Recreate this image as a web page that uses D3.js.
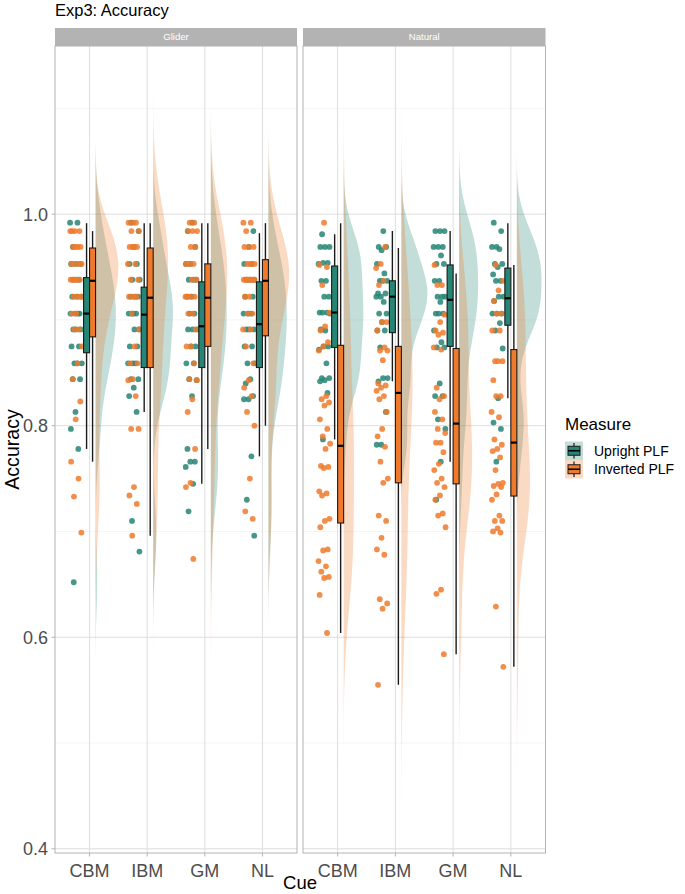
<!DOCTYPE html>
<html>
<head>
<meta charset="utf-8">
<script src="https://cdn.jsdelivr.net/npm/d3@7"></script>
<style>
  body { margin: 0; background: #fff; }
  svg { font-family: "Liberation Sans", Arial, sans-serif; }
</style>
</head>
<body>
<div id="chart"></div>
<script>
const panels = ["Glider", "Natural"];
const cues = ["CBM", "IBM", "GM", "NL"];
const measures = ["Upright PLF", "Inverted PLF"];
const yTicks = [0.4, 0.6, 0.8, 1.0];
const yMinor = [0.5, 0.7, 0.9, 1.1];

// participant accuracies, one list per cue (CBM, IBM, GM, NL)
const gliderUpright = [
  [0.992, 0.992, 0.969, 0.953, 0.953, 0.953, 0.938, 0.938, 0.922, 0.922, 0.922, 0.906, 0.906, 0.906, 0.906, 0.891, 0.891, 0.891, 0.875, 0.875, 0.859, 0.859, 0.859, 0.844, 0.844, 0.813, 0.797, 0.778, 0.652],
  [0.992, 0.984, 0.969, 0.953, 0.953, 0.938, 0.938, 0.922, 0.922, 0.922, 0.906, 0.906, 0.906, 0.906, 0.891, 0.891, 0.875, 0.875, 0.859, 0.859, 0.859, 0.844, 0.844, 0.836, 0.828, 0.813, 0.710, 0.681],
  [0.992, 0.984, 0.969, 0.953, 0.953, 0.938, 0.938, 0.938, 0.922, 0.922, 0.906, 0.906, 0.891, 0.891, 0.891, 0.875, 0.875, 0.859, 0.859, 0.844, 0.843, 0.828, 0.778, 0.766, 0.766, 0.761, 0.745, 0.719],
  [0.984, 0.969, 0.953, 0.953, 0.938, 0.938, 0.938, 0.922, 0.922, 0.906, 0.906, 0.906, 0.891, 0.891, 0.891, 0.875, 0.875, 0.859, 0.859, 0.844, 0.840, 0.828, 0.825, 0.825, 0.771, 0.730, 0.696]
];
const gliderInverted = [
  [0.984, 0.984, 0.984, 0.984, 0.969, 0.969, 0.969, 0.969, 0.953, 0.953, 0.953, 0.953, 0.938, 0.938, 0.938, 0.938, 0.938, 0.922, 0.922, 0.922, 0.906, 0.906, 0.891, 0.891, 0.875, 0.859, 0.844, 0.823, 0.806, 0.766, 0.750, 0.733, 0.699],
  [0.992, 0.992, 0.992, 0.984, 0.984, 0.969, 0.969, 0.969, 0.969, 0.953, 0.953, 0.938, 0.938, 0.922, 0.922, 0.922, 0.906, 0.891, 0.875, 0.859, 0.859, 0.844, 0.843, 0.828, 0.797, 0.797, 0.742, 0.734, 0.726, 0.696],
  [0.992, 0.992, 0.984, 0.984, 0.984, 0.969, 0.969, 0.953, 0.953, 0.953, 0.938, 0.938, 0.922, 0.922, 0.922, 0.922, 0.906, 0.906, 0.891, 0.875, 0.875, 0.859, 0.844, 0.843, 0.825, 0.813, 0.778, 0.746, 0.742, 0.674],
  [0.992, 0.992, 0.984, 0.969, 0.969, 0.969, 0.953, 0.953, 0.953, 0.953, 0.938, 0.938, 0.938, 0.938, 0.938, 0.938, 0.938, 0.922, 0.922, 0.906, 0.906, 0.891, 0.891, 0.875, 0.859, 0.843, 0.836, 0.828, 0.813, 0.800, 0.750, 0.719, 0.712]
];
const naturalUpright = [
  [0.981, 0.969, 0.969, 0.969, 0.954, 0.954, 0.953, 0.937, 0.937, 0.922, 0.922, 0.907, 0.907, 0.907, 0.906, 0.890, 0.891, 0.875, 0.875, 0.872, 0.859, 0.845, 0.845, 0.843, 0.842, 0.831, 0.787],
  [0.984, 0.969, 0.969, 0.966, 0.953, 0.944, 0.937, 0.937, 0.937, 0.925, 0.925, 0.922, 0.922, 0.917, 0.906, 0.906, 0.898, 0.890, 0.890, 0.874, 0.845, 0.845, 0.842, 0.813, 0.782, 0.782],
  [0.984, 0.984, 0.984, 0.969, 0.969, 0.969, 0.961, 0.953, 0.953, 0.937, 0.937, 0.922, 0.922, 0.922, 0.917, 0.906, 0.906, 0.906, 0.890, 0.879, 0.874, 0.874, 0.840, 0.828, 0.828, 0.806, 0.797, 0.766, 0.730],
  [0.992, 0.984, 0.969, 0.969, 0.967, 0.953, 0.953, 0.950, 0.943, 0.937, 0.937, 0.922, 0.922, 0.918, 0.906, 0.906, 0.906, 0.897, 0.890, 0.873, 0.826, 0.803, 0.797, 0.766]
];
const naturalInverted = [
  [0.992, 0.952, 0.950, 0.933, 0.907, 0.894, 0.890, 0.879, 0.875, 0.871, 0.828, 0.825, 0.822, 0.819, 0.806, 0.797, 0.790, 0.783, 0.778, 0.762, 0.761, 0.760, 0.738, 0.736, 0.734, 0.712, 0.710, 0.704, 0.683, 0.682, 0.672, 0.667, 0.662, 0.657, 0.656, 0.640, 0.604],
  [0.969, 0.953, 0.949, 0.937, 0.933, 0.898, 0.898, 0.890, 0.874, 0.871, 0.871, 0.862, 0.840, 0.838, 0.836, 0.833, 0.828, 0.825, 0.813, 0.797, 0.790, 0.780, 0.766, 0.750, 0.746, 0.715, 0.710, 0.694, 0.683, 0.678, 0.636, 0.632, 0.627, 0.555],
  [0.952, 0.933, 0.933, 0.905, 0.898, 0.890, 0.888, 0.886, 0.874, 0.872, 0.836, 0.828, 0.825, 0.813, 0.806, 0.797, 0.793, 0.784, 0.784, 0.775, 0.764, 0.758, 0.750, 0.746, 0.742, 0.734, 0.730, 0.717, 0.715, 0.704, 0.645, 0.641, 0.584],
  [0.952, 0.937, 0.928, 0.918, 0.906, 0.906, 0.890, 0.890, 0.861, 0.861, 0.861, 0.843, 0.828, 0.828, 0.813, 0.808, 0.787, 0.782, 0.778, 0.776, 0.770, 0.758, 0.746, 0.745, 0.743, 0.742, 0.735, 0.730, 0.715, 0.710, 0.710, 0.703, 0.700, 0.699, 0.629, 0.572]
];

// box summaries: lower whisker, q1, median, q3, upper whisker
const gliderUprightBox = [
  [0.778, 0.869, 0.906, 0.940, 0.9915],
  [0.813, 0.855, 0.905, 0.931, 0.9915],
  [0.745, 0.855, 0.894, 0.936, 0.9915],
  [0.771, 0.855, 0.896, 0.936, 0.982]
];
const gliderInvertedBox = [
  [0.766, 0.884, 0.937, 0.968, 0.984],
  [0.696, 0.855, 0.921, 0.968, 0.9915],
  [0.778, 0.875, 0.921, 0.953, 0.9915],
  [0.800, 0.885, 0.937, 0.957, 0.9915]
];
const naturalUprightBox = [
  [0.787, 0.874, 0.907, 0.951, 0.981],
  [0.842, 0.888, 0.922, 0.937, 0.984],
  [0.766, 0.875, 0.919, 0.952, 0.984],
  [0.826, 0.895, 0.9205, 0.949, 0.9915]
];
const naturalInvertedBox = [
  [0.604, 0.708, 0.781, 0.876, 0.9915],
  [0.555, 0.746, 0.831, 0.875, 0.968],
  [0.584, 0.745, 0.802, 0.873, 0.944],
  [0.572, 0.7335, 0.784, 0.872, 0.952]
];

const points = {
  Glider: [gliderUpright, gliderInverted],
  Natural: [naturalUpright, naturalInverted]
};
const boxes = {
  Glider: [gliderUprightBox, gliderInvertedBox],
  Natural: [naturalUprightBox, naturalInvertedBox]
};

const width = 685, height = 894;
const panelTop = 46, panelBottom = 853;
const panelRanges = [[55, 297], [303, 545.5]];
const colors = ["#268574", "#F07A2B"];
const grey70 = "#B3B3B3";

const svg = d3.select("#chart").append("svg")
  .attr("width", width)
  .attr("height", height);

const y = d3.scaleLinear().domain([0.396, 1.159]).range([panelBottom, panelTop]);

// gaussian kde, bandwidth like R's nrd0, tails out to 3 bandwidths
function kde(values) {
  const sorted = values.slice().sort(d3.ascending);
  const sd = d3.deviation(sorted);
  const iqr = d3.quantile(sorted, 0.75) - d3.quantile(sorted, 0.25);
  const spread = iqr > 0 ? Math.min(sd, iqr / 1.34) : sd;
  const bw = 0.9 * spread * Math.pow(sorted.length, -0.2);
  const lo = sorted[0] - 3 * bw, hi = sorted[sorted.length - 1] + 3 * bw;
  return d3.range(0, 241).map(i => {
    const v = lo + (hi - lo) * i / 240;
    const dens = d3.mean(sorted, x => Math.exp(-0.5 * ((v - x) / bw) ** 2)) / (bw * Math.sqrt(2 * Math.PI));
    return [v, dens];
  });
}

const densities = {};
panels.forEach(p => {
  densities[p] = points[p].map(series => series.map(kde));
});
const maxDens = d3.max(panels, p => d3.max(densities[p], s => d3.max(s, d => d3.max(d, e => e[1]))));
const dw = d3.scaleLinear().domain([0, maxDens]).range([0, 26]);

// title
svg.append("text")
  .attr("x", 55).attr("y", 16)
  .attr("font-size", 16.5)
  .attr("fill", "#000")
  .text("Exp3: Accuracy");

// deterministic horizontal spread for the rain
const spread = (i, k) => (((i * 0.618034 + k * 0.291) % 1) - 0.5) * 12;

panels.forEach((p, pi) => {
  const [x0, x1] = panelRanges[pi];
  const x = d3.scalePoint().domain(cues).range([x0, x1]).padding(0.6);
  const g = svg.append("g");

  g.append("clipPath").attr("id", "clip" + pi)
    .append("rect")
    .attr("x", x0).attr("y", panelTop)
    .attr("width", x1 - x0).attr("height", panelBottom - panelTop);

  // strip
  g.append("rect")
    .attr("x", x0).attr("y", 28)
    .attr("width", x1 - x0).attr("height", panelTop - 28)
    .attr("fill", grey70);
  g.append("text")
    .attr("x", (x0 + x1) / 2).attr("y", 40.3)
    .attr("text-anchor", "middle")
    .attr("font-size", 9.6)
    .attr("fill", "#fff")
    .text(p);

  // grid
  g.selectAll(".minor").data(yMinor).join("line")
    .attr("x1", x0).attr("x2", x1)
    .attr("y1", d => y(d)).attr("y2", d => y(d))
    .attr("stroke", "#EDEDED").attr("stroke-width", 0.6);
  g.selectAll(".major").data(yTicks).join("line")
    .attr("x1", x0).attr("x2", x1)
    .attr("y1", d => y(d)).attr("y2", d => y(d))
    .attr("stroke", "#DEDEDE").attr("stroke-width", 1);
  g.selectAll(".vmajor").data(cues).join("line")
    .attr("x1", d => x(d)).attr("x2", d => x(d))
    .attr("y1", panelTop).attr("y2", panelBottom)
    .attr("stroke", "#DEDEDE").attr("stroke-width", 1);

  const plot = g.append("g").attr("clip-path", `url(#clip${pi})`);

  // clouds
  measures.forEach((m, mi) => {
    cues.forEach((c, ci) => {
      const base = x(c) + 6;
      plot.append("path")
        .datum(densities[p][mi][ci])
        .attr("d", d3.area()
          .y(d => y(d[0]))
          .x0(base)
          .x1(d => base + dw(d[1])))
        .attr("fill", colors[mi])
        .attr("fill-opacity", 0.28);
    });
  });

  // rain
  measures.forEach((m, mi) => {
    cues.forEach((c, ci) => {
      plot.selectAll(null)
        .data(points[p][mi][ci])
        .join("circle")
        .attr("cx", (d, i) => x(c) - 13.5 + spread(i, mi * 4 + ci + pi * 8))
        .attr("cy", d => y(d))
        .attr("r", 2.9)
        .attr("fill", colors[mi])
        .attr("fill-opacity", 0.85);
    });
  });

  // boxes
  measures.forEach((m, mi) => {
    cues.forEach((c, ci) => {
      const [lo, q1, med, q3, hi] = boxes[p][mi][ci];
      const bx = mi === 0 ? x(c) - 6 : x(c);
      const cx = bx + 3;
      plot.append("line")
        .attr("x1", cx).attr("x2", cx)
        .attr("y1", y(lo)).attr("y2", y(hi))
        .attr("stroke", "#1a1a1a").attr("stroke-width", 1.4);
      plot.append("rect")
        .attr("x", bx).attr("y", y(q3))
        .attr("width", 6).attr("height", y(q1) - y(q3))
        .attr("fill", colors[mi])
        .attr("stroke", "#1a1a1a").attr("stroke-width", 1.1);
      plot.append("line")
        .attr("x1", bx).attr("x2", bx + 6)
        .attr("y1", y(med)).attr("y2", y(med))
        .attr("stroke", "#000").attr("stroke-width", 2.2);
    });
  });

  // border
  g.append("rect")
    .attr("x", x0).attr("y", panelTop)
    .attr("width", x1 - x0).attr("height", panelBottom - panelTop)
    .attr("fill", "none")
    .attr("stroke", grey70).attr("stroke-width", 1);

  // x axis
  g.selectAll(".xt").data(cues).join("line")
    .attr("x1", d => x(d)).attr("x2", d => x(d))
    .attr("y1", panelBottom).attr("y2", panelBottom + 3.5)
    .attr("stroke", grey70);
  g.selectAll(".xl").data(cues).join("text")
    .attr("x", d => x(d)).attr("y", 876.5)
    .attr("text-anchor", "middle")
    .attr("font-size", 18)
    .attr("fill", "#4D4D4D")
    .text(d => d);
});

// y axis
const ya = svg.append("g");
ya.selectAll("line").data(yTicks).join("line")
  .attr("x1", 51.5).attr("x2", 55)
  .attr("y1", d => y(d)).attr("y2", d => y(d))
  .attr("stroke", grey70);
ya.selectAll("text").data(yTicks).join("text")
  .attr("x", 48).attr("y", d => y(d))
  .attr("dy", "0.36em")
  .attr("text-anchor", "end")
  .attr("font-size", 18)
  .attr("fill", "#4D4D4D")
  .text(d3.format(".1f"));

svg.append("text")
  .attr("transform", `translate(18.5,${(panelTop + panelBottom) / 2}) rotate(-90)`)
  .attr("text-anchor", "middle")
  .attr("font-size", 19.6)
  .text("Accuracy");

svg.append("text")
  .attr("x", 300).attr("y", 889)
  .attr("text-anchor", "middle")
  .attr("font-size", 18.5)
  .text("Cue");

// legend
const legend = svg.append("g");
legend.append("text")
  .attr("x", 565).attr("y", 430)
  .attr("font-size", 17)
  .text("Measure");
measures.forEach((m, mi) => {
  const ky = 441.5 + mi * 18.5;
  const k = legend.append("g");
  k.append("rect")
    .attr("x", 565).attr("y", ky)
    .attr("width", 18).attr("height", 18.5)
    .attr("fill", colors[mi]).attr("fill-opacity", 0.28);
  k.append("line")
    .attr("x1", 574).attr("x2", 574)
    .attr("y1", ky + 1.5).attr("y2", ky + 17)
    .attr("stroke", "#1a1a1a").attr("stroke-width", 1.2);
  k.append("rect")
    .attr("x", 568).attr("y", ky + 4.75)
    .attr("width", 12).attr("height", 9)
    .attr("fill", colors[mi])
    .attr("stroke", "#1a1a1a").attr("stroke-width", 1);
  k.append("line")
    .attr("x1", 568).attr("x2", 580)
    .attr("y1", ky + 9.25).attr("y2", ky + 9.25)
    .attr("stroke", "#000").attr("stroke-width", 1.6);
  legend.append("text")
    .attr("x", 594).attr("y", ky + 9.25)
    .attr("dy", "0.36em")
    .attr("font-size", 14)
    .text(m);
});
</script>
</body>
</html>
